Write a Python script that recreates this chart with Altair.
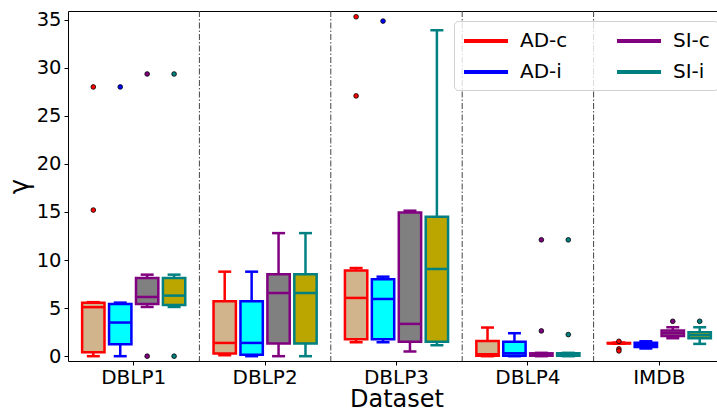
import altair as alt
import pandas as pd

datasets = ["DBLP1", "DBLP2", "DBLP3", "DBLP4", "IMDB"]
methods = ["AD-c", "AD-i", "SI-c", "SI-i"]
edge_colors = ["#FF0000", "#0000FF", "#800080", "#008080"]
fill_colors = ["#D2B48C", "#00FFFF", "#808080", "#BBA600"]

# per method, values per dataset (DBLP1..IMDB)
whisker_lo = {
    "AD-c": [0.0, 0.1, 1.45, 0.0, 1.3],
    "AD-i": [0.0, 0.0, 1.45, 0.0, 0.8],
    "SI-c": [5.12, 0.0, 0.49, 0.0, 1.87],
    "SI-i": [5.12, 0.0, 1.14, 0.0, 1.28],
}
q1 = {
    "AD-c": [0.4, 0.28, 1.77, 0.05, 1.32],
    "AD-i": [1.25, 0.14, 1.77, 0.05, 0.95],
    "SI-c": [5.43, 1.31, 1.49, 0.05, 2.11],
    "SI-i": [5.33, 1.31, 1.49, 0.05, 1.87],
}
median = {
    "AD-c": [5.1, 1.38, 6.06, 0.2, 1.35],
    "AD-i": [3.5, 1.38, 5.95, 0.3, 1.15],
    "SI-c": [6.16, 6.57, 3.36, 0.15, 2.39],
    "SI-i": [6.3, 6.57, 9.07, 0.15, 2.18],
}
q3 = {
    "AD-c": [5.55, 5.71, 8.9, 1.59, 1.38],
    "AD-i": [5.43, 5.71, 8.0, 1.49, 1.4],
    "SI-c": [8.13, 8.51, 14.95, 0.3, 2.67],
    "SI-i": [8.13, 8.51, 14.5, 0.3, 2.49],
}
whisker_hi = {
    "AD-c": [5.62, 8.79, 9.17, 2.98, 1.42],
    "AD-i": [5.57, 8.79, 8.27, 2.39, 1.55],
    "SI-c": [8.48, 12.8, 15.13, 0.35, 3.01],
    "SI-i": [8.48, 12.8, 33.9, 0.35, 3.01],
}
outlier_dataset = {
    "AD-c": ["DBLP1", "DBLP1", "DBLP3", "DBLP3", "IMDB", "IMDB", "IMDB"],
    "AD-i": ["DBLP1", "DBLP3"],
    "SI-c": ["DBLP1", "DBLP1", "DBLP4", "DBLP4", "IMDB"],
    "SI-i": ["DBLP1", "DBLP1", "DBLP4", "DBLP4", "IMDB"],
}
outlier_value = {
    "AD-c": [28.0, 15.2, 35.3, 27.07, 1.55, 0.76, 0.55],
    "AD-i": [28.0, 34.85],
    "SI-c": [29.35, 0.0, 12.1, 2.63, 3.63],
    "SI-i": [29.35, 0.0, 12.1, 2.25, 3.63],
}
dividers = ["DBLP2", "DBLP3", "DBLP4", "IMDB"]

rows = []
for m in methods:
    for i, d in enumerate(datasets):
        rows.append({"Dataset": d, "Method": m, "lo": whisker_lo[m][i], "q1": q1[m][i],
                     "med": median[m][i], "q3": q3[m][i], "hi": whisker_hi[m][i]})
stats = pd.DataFrame(rows)
caps = pd.concat([
    stats[["Dataset", "Method", "lo"]].rename(columns={"lo": "v"}),
    stats[["Dataset", "Method", "hi"]].rename(columns={"hi": "v"}),
])
outs = pd.DataFrame([{"Dataset": d, "Method": m, "v": v}
                     for m in methods
                     for d, v in zip(outlier_dataset[m], outlier_value[m])])
divs = pd.DataFrame({"Dataset": dividers})

FONT = "DejaVu Sans"
xscale = alt.Scale(domain=datasets, paddingInner=0, paddingOuter=0)
xaxis = alt.Axis(labelAngle=0, labelFontSize=20, titleFontSize=24, tickSize=4,
                 labelPadding=2, titlePadding=0, labelLineHeight=20, domain=False)
yscale = alt.Scale(domain=[-0.5, 35.9], nice=False, zero=False)
yaxis = alt.Axis(values=[0, 5, 10, 15, 20, 25, 30, 35], labelFontSize=19.5, titleFontSize=26,
                 tickSize=4, labelPadding=3, titlePadding=4, grid=False, domain=False)

X = alt.X("Dataset:N", scale=xscale, axis=xaxis, title="Dataset")
XO = alt.XOffset("Method:N", scale=alt.Scale(domain=methods, paddingInner=0.17, paddingOuter=0.525))
STROKE = alt.Stroke("Method:N", scale=alt.Scale(domain=methods, range=edge_colors),
                    legend=alt.Legend(title=None, symbolType="M-2.2,0H2.2", columns=2,
                                      orient="none", legendX=386, legendY=10,
                                      labelFontSize=20, symbolSize=400, symbolStrokeWidth=4,
                                      symbolFillColor="transparent", symbolOffset=12,
                                      labelOffset=22,
                                      columnPadding=41, rowPadding=9, padding=8,
                                      fillColor="rgba(255,255,255,0.8)", strokeColor="#d0d0d0",
                                      cornerRadius=4, labelFont=FONT))
COLOR = alt.Color("Method:N", scale=alt.Scale(domain=methods, range=edge_colors), legend=None)
FILL = alt.Fill("Method:N", scale=alt.Scale(domain=methods, range=fill_colors), legend=None)

def Y(field):
    return alt.Y(f"{field}:Q", scale=yscale, axis=yaxis, title="γ")

div_layer = alt.Chart(divs).mark_rule(color="#444", strokeWidth=1, strokeDash=[6, 2, 1.5, 2]).encode(
    x=alt.X("Dataset:N", scale=xscale, axis=xaxis, title="Dataset", bandPosition=0)
)
whisk = alt.Chart(stats).mark_rule(strokeWidth=2.5).encode(
    x=X, xOffset=XO, y=Y("lo"), y2="hi", stroke=STROKE)
box = alt.Chart(stats).mark_bar(strokeWidth=2.5).encode(
    x=X, xOffset=XO, y=Y("q1"), y2="q3", fill=FILL, stroke=STROKE)
med = alt.Chart(stats).mark_tick(thickness=2.5, size=22, opacity=1).encode(
    x=X, xOffset=XO, y=Y("med"), color=COLOR)
cap = alt.Chart(caps).mark_tick(thickness=2.5, size=13, opacity=1).encode(
    x=X, xOffset=XO, y=Y("v"), color=COLOR)
pts = alt.Chart(outs).mark_circle(size=22, opacity=1, stroke="black", strokeWidth=0.8).encode(
    x=X, xOffset=XO, y=Y("v"), color=COLOR)

chart = alt.layer(div_layer, whisk, box, med, cap, pts).properties(
    width=657, height=350,
    autosize=alt.AutoSizeParams(type="none"),
    padding={"left": 68, "top": 11, "right": -8, "bottom": 51},
).configure_view(stroke="black", strokeWidth=1).configure_axis(
    labelFont=FONT, titleFont=FONT, labelColor="black", titleColor="black",
    tickColor="black", titleFontWeight="normal"
).configure_legend(labelColor="black")

chart.save("out.html", embed_options={"renderer": "svg", "actions": False})
